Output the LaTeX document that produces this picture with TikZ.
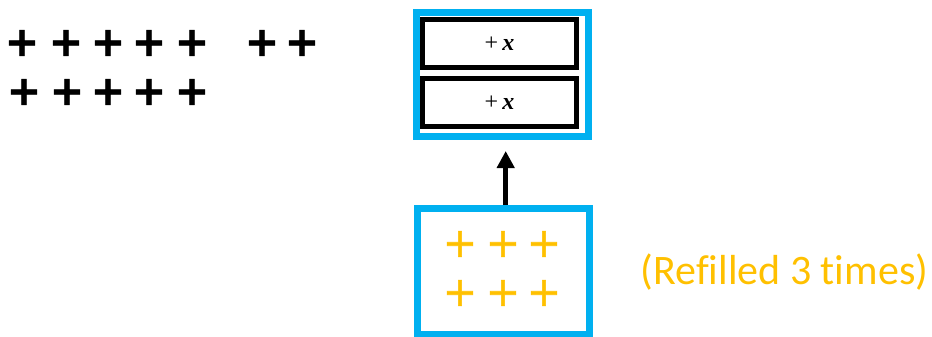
\documentclass[tikz,border=0pt]{standalone}
\usepackage{fontspec}
\setmainfont{Carlito}
\newfontfamily\labfont[Ligatures=NoCommon]{Carlito}
\newfontfamily\plusfontb[FakeBold=1]{DejaVu Sans Bold}
\newfontfamily\plusfont[FakeBold=1.5]{DejaVu Sans}
\newfontfamily\serifx{Liberation Serif}
\usetikzlibrary{arrows.meta}
\definecolor{cblue}{HTML}{00B0F0}
\definecolor{cgold}{HTML}{FFC000}
\tikzset{
  bplus/.style={inner sep=0pt, font=\plusfontb\fontsize{41}{41}\selectfont},
  yplus/.style={inner sep=0pt, text=cgold, font=\plusfont\fontsize{41}{41}\selectfont},
  bluebox/.style={draw=cblue, line width=7pt},
  blackbox/.style={draw=black, line width=5pt, minimum width=154pt, minimum height=48pt, inner sep=0pt, font=\serifx\fontsize{24}{24}\selectfont},
}
\begin{document}
\begin{tikzpicture}[x=1pt,y=-1pt]
\useasboundingbox (0,0) rectangle (932,337);
% black pluses
\foreach \x/\n in {22/a,66/b,108/c,149/d,192/e,262/f,302/g}
  \node[bplus] (t\n) at (\x,43) {+};
\foreach \x/\n in {24/a,67/b,108/c,149/d,192/e}
  \node[bplus] (s\n) at (\x,92) {+};
% top blue box
\node[bluebox, minimum width=172pt, minimum height=124pt, inner sep=0pt] (top) at (502.5,74.5) {};
\node[blackbox] (r1) at (499.5,43.5) {+\,\textbf{\textit{x}}};
\node[blackbox] (r2) at (499.5,102.5) {+\,\textbf{\textit{x}}};
% bottom blue box
\node[bluebox, minimum width=172pt, minimum height=126pt, inner sep=0pt] (bot) at (503.5,271.5) {};
\foreach \x/\n in {460/a,503/b,544/c}{
  \node[yplus] (u\n) at (\x,244) {+};
  \node[yplus] (v\n) at (\x,293) {+};
}
\coordinate (tip) at (505.7,151);
\draw[line width=5pt, -{Triangle[length=17pt,width=17pt]}] (bot.north -| tip) -- (tip);
\node[text=cgold, font=\labfont\fontsize{42}{42}\selectfont, inner sep=0pt] (lbl) at (784.5,272) {(Refilled 3 times)};
\end{tikzpicture}
\end{document}
